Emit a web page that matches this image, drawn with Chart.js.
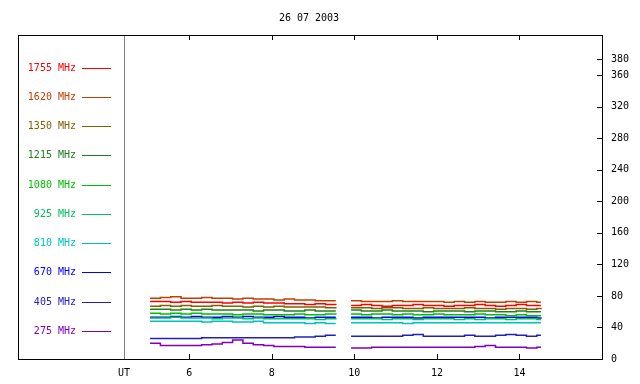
<!DOCTYPE html>
<html>
<head>
<meta charset="utf-8">
<script src="https://cdn.jsdelivr.net/npm/chart.js@4.4.0/dist/chart.umd.min.js"></script>
<style>
  body { margin: 0; background: #fff; }
</style>
</head>
<body>
<canvas id="chart" width="640" height="384"></canvas>
<script>
const title = "26 07 2003";
// UT hours of the samples (null row = data gap)
const hours = [5.05, 5.3, 5.55, 5.8, 6.05, 6.3, 6.55, 6.8, 7.05, 7.3, 7.55, 7.8, 8.05, 8.3, 8.55, 8.8, 9.05, 9.3, 9.55,
  9.75,
  9.92, 10.17, 10.42, 10.67, 10.92, 11.17, 11.42, 11.67, 11.92, 12.17, 12.42, 12.67, 12.92, 13.17, 13.42, 13.67, 13.92, 14.17, 14.42, 14.52];
const freqLabels = ["1755 MHz", "1620 MHz", "1350 MHz", "1215 MHz", "1080 MHz", "925 MHz", "810 MHz", "670 MHz", "405 MHz", "275 MHz"];
const freqColors = ["#ff0000", "#c04000", "#806000", "#208020", "#00c000", "#00c060", "#00c0c0", "#0000ff", "#2020c0", "#8000c0"];
// flux values per frequency
const f1755 = [73, 73, 72, 73, 72, 72, 72, 71, 72, 71, 72, 71, 71, 70, 70, 69, 70, 69, 70, null,
  68, 69, 68, 67, 68, 68, 69, 68, 68, 67, 68, 68, 69, 68, 67, 68, 69, 68, 68, 68];
const f1620 = [77, 78, 79, 77, 77, 78, 77, 77, 76, 77, 76, 76, 75, 76, 75, 75, 74, 74, 74, null,
  74, 73, 73, 73, 74, 73, 73, 73, 73, 72, 73, 72, 73, 72, 72, 73, 72, 73, 72, 72];
const f1350 = [67, 68, 67, 68, 67, 67, 68, 67, 67, 66, 67, 66, 67, 66, 66, 66, 66, 65, 66, null,
  65, 65, 64, 65, 65, 64, 64, 65, 64, 64, 64, 65, 64, 64, 63, 64, 64, 63, 64, 63];
const f1215 = [63, 63, 62, 63, 62, 63, 62, 62, 62, 62, 61, 62, 62, 61, 61, 62, 61, 61, 61, null,
  62, 61, 61, 62, 61, 61, 61, 60, 61, 61, 61, 60, 61, 61, 60, 60, 61, 60, 60, 60];
const f1080 = [58, 57, 58, 57, 58, 57, 57, 57, 56, 57, 57, 56, 56, 56, 57, 56, 56, 57, 56, null,
  57, 56, 57, 57, 56, 57, 56, 56, 57, 56, 56, 56, 57, 56, 56, 55, 56, 55, 55, 55];
const f925 = [52, 52, 53, 52, 52, 52, 51, 52, 52, 51, 52, 51, 51, 51, 51, 51, 50, 51, 50, null,
  51, 51, 51, 50, 51, 51, 50, 51, 51, 51, 50, 51, 50, 51, 51, 50, 51, 51, 50, 50];
const f810 = [48, 48, 48, 48, 48, 47, 48, 48, 47, 47, 48, 46, 46, 46, 46, 45, 46, 45, 45, null,
  46, 46, 46, 46, 46, 45, 46, 46, 46, 46, 46, 46, 46, 46, 46, 46, 46, 46, 46, 46];
const f670 = [53, 53, 54, 53, 54, 53, 53, 54, 53, 54, 53, 53, 54, 53, 53, 52, 53, 53, 53, null,
  53, 53, 52, 53, 53, 53, 52, 53, 53, 53, 53, 53, 53, 52, 53, 53, 53, 53, 52, 53];
const f405 = [26, 26, 26, 26, 26, 27, 27, 27, 27, 27, 27, 27, 27, 27, 28, 28, 29, 30, 30, null,
  29, 29, 29, 29, 29, 30, 31, 29, 29, 29, 29, 30, 29, 29, 30, 31, 30, 29, 30, 30];
const f275 = [20, 17, 17, 17, 17, 18, 19, 21, 24, 20, 18, 17, 16, 16, 16, 15, 15, 15, 15, null,
  14, 14, 15, 15, 15, 15, 15, 15, 15, 15, 15, 15, 16, 17, 15, 15, 15, 14, 15, 15];
const series = [f1755, f1620, f1350, f1215, f1080, f925, f810, f670, f405, f275];
// tick labels
const utMark = 4.42;
const xTicks = [utMark, 6, 8, 10, 12, 14];
const yTicks = [0, 40, 80, 120, 160, 200, 240, 280, 320, 360, 380];

const FONT = { family: "'DejaVu Sans Mono', monospace", size: 10 };

const datasets = series.map((vals, i) => ({
  label: freqLabels[i],
  data: hours.map((h, j) => ({ x: h, y: vals[j] })),
  borderColor: freqColors[i],
  borderWidth: 1.5,
  pointRadius: 0,
  stepped: true,
  spanGaps: false,
}));

// frame, title, inward ticks and the left legend panel
const framePlugin = {
  id: "frame",
  afterDraw(chart) {
    const ctx = chart.ctx;
    const a = chart.chartArea;
    const xs = chart.scales.x, ys = chart.scales.y;
    ctx.save();
    ctx.font = "10px 'DejaVu Sans Mono', monospace";
    ctx.fillStyle = "#000";
    ctx.textAlign = "center";
    ctx.textBaseline = "middle";
    ctx.fillText(title, 309, 18);

    // separator
    const sx = Math.round(xs.getPixelForValue(utMark)) + 0.5;
    ctx.strokeStyle = "#808080";
    ctx.lineWidth = 1;
    ctx.beginPath();
    ctx.moveTo(sx, a.top); ctx.lineTo(sx, a.bottom);
    ctx.stroke();

    // box
    ctx.strokeStyle = "#000";
    ctx.strokeRect(Math.round(a.left) + 0.5, Math.round(a.top) + 0.5,
      Math.round(a.right - a.left), Math.round(a.bottom - a.top));

    // inward ticks
    ctx.beginPath();
    xTicks.slice(1).forEach(v => {
      const px = Math.round(xs.getPixelForValue(v)) + 0.5;
      ctx.moveTo(px, a.bottom); ctx.lineTo(px, a.bottom - 5);
      ctx.moveTo(px, a.top); ctx.lineTo(px, a.top + 5);
    });
    yTicks.forEach(v => {
      const py = Math.round(ys.getPixelForValue(v)) + 0.5;
      ctx.moveTo(a.right, py); ctx.lineTo(a.right - 5, py);
    });
    ctx.stroke();

    // legend
    ctx.textAlign = "right";
    freqLabels.forEach((lab, i) => {
      const y = Math.round(67.5 + i * 29.25);
      ctx.fillStyle = freqColors[i];
      ctx.fillText(lab, 76, y);
      ctx.strokeStyle = freqColors[i];
      ctx.beginPath();
      ctx.moveTo(82, y + 0.5); ctx.lineTo(111, y + 0.5);
      ctx.stroke();
    });
    ctx.restore();
  }
};

new Chart(document.getElementById("chart"), {
  type: "line",
  data: { datasets },
  plugins: [framePlugin],
  options: {
    responsive: false,
    animation: false,
    layout: { padding: { left: 18, top: 35, right: 0, bottom: 0 } },
    plugins: { legend: { display: false }, tooltip: { enabled: false }, title: { display: false } },
    scales: {
      x: {
        type: "linear",
        min: 1.85,
        max: 16.0,
        grid: { display: false, drawTicks: false },
        border: { display: false },
        ticks: {
          color: "#000", font: FONT, padding: 8, maxRotation: 0, autoSkip: false,
          callback: v => (v === utMark ? "UT" : String(v)),
        },
        afterBuildTicks: s => { s.ticks = xTicks.map(v => ({ value: v })); },
        afterFit: s => { s.height = 25; },
      },
      y: {
        position: "right",
        min: 0,
        max: 411,
        grid: { display: false, drawTicks: false },
        border: { display: false },
        ticks: { color: "#000", font: FONT, padding: 9 },
        afterBuildTicks: s => { s.ticks = yTicks.map(v => ({ value: v })); },
        afterFit: s => { s.width = 38; },
      },
    },
  },
});
</script>
</body>
</html>
